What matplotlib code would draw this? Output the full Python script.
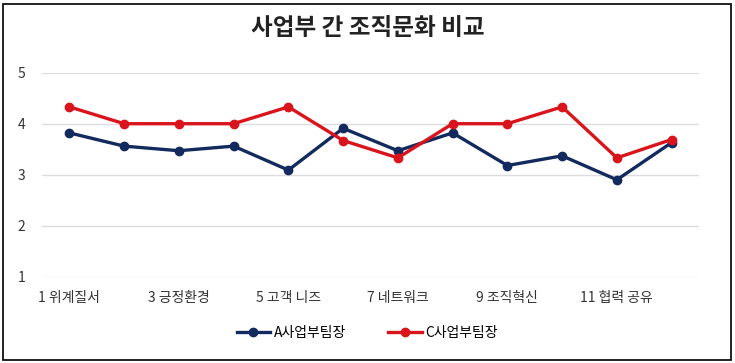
import matplotlib
matplotlib.use("Agg")
import matplotlib.pyplot as plt
from matplotlib.patches import Rectangle

plt.rcParams["font.family"] = ["Noto Sans CJK KR", "DejaVu Sans"]

categories = ["1 위계질서", "2", "3 긍정환경", "4", "5 고객 니즈", "6",
              "7 네트워크", "8", "9 조직혁신", "10", "11 협력 공유", "12"]
a_team = [3.82, 3.56, 3.47, 3.56, 3.09, 3.91, 3.47, 3.82, 3.18, 3.37, 2.90, 3.63]
c_team = [4.33, 4.00, 4.00, 4.00, 4.33, 3.67, 3.33, 4.00, 4.00, 4.33, 3.33, 3.69]
series_names = ["A사업부팀장", "C사업부팀장"]
y_ticks = [1, 2, 3, 4, 5]

navy = "#132a5e"
red = "#d9141c"

fig = plt.figure(figsize=(7.35, 3.63), dpi=100)
ax = fig.add_axes([42 / 735, 1 - 276.7 / 363, (699 - 42) / 735, (276.7 - 72.7) / 363])

x = list(range(len(categories)))
ax.plot(x, a_team, color=navy, lw=2.4, marker="o", ms=6, label=series_names[0], zorder=3)
ax.plot(x, c_team, color=red, lw=2.4, marker="o", ms=6, label=series_names[1], zorder=3)

ax.set_xlim(-0.5, len(categories) - 0.5)
ax.set_ylim(1, 5)
ax.set_yticks(y_ticks)
ax.set_yticklabels([str(v) for v in y_ticks], fontsize=10, color="#333333")
ax.set_xticks(x[::2])
ax.set_xticklabels(categories[::2], fontsize=10, color="#333333")
ax.tick_params(axis="y", length=0, pad=12)
ax.tick_params(axis="x", length=0, pad=10)
ax.grid(axis="y", color="#dddddd", lw=1)
ax.set_axisbelow(True)
for s in ax.spines.values():
    s.set_visible(False)

fig.suptitle("사업부 간 조직문화 비교", y=1 - 28 / 363, va="center",
             fontsize=17, fontweight="bold", color="#222222")

fig.legend(loc="center", bbox_to_anchor=(0.5, 1 - 333 / 363), ncol=2,
           frameon=False, fontsize=10, columnspacing=3.0, handlelength=2.4,
           handletextpad=0.3)

fig.patches.append(Rectangle((3 / 735, 3 / 363), 728 / 735, 356 / 363,
                             transform=fig.transFigure, fill=False,
                             edgecolor="#111111", lw=1.3))

fig.savefig("out.png", dpi=100)
